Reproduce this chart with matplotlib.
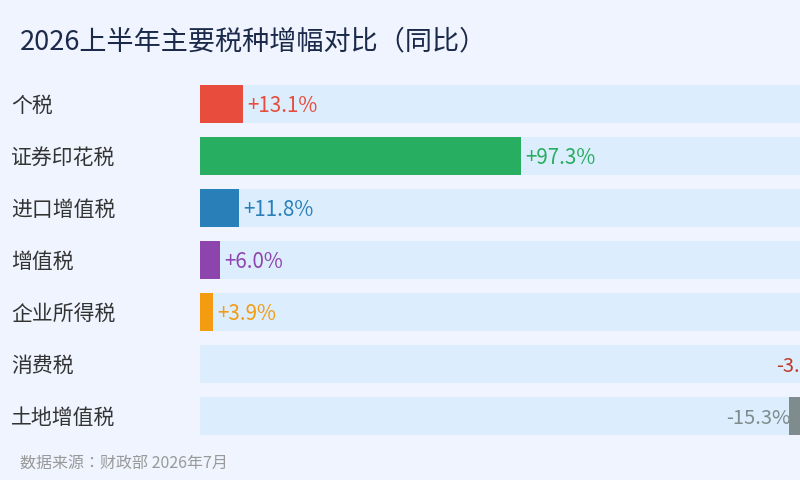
import matplotlib
matplotlib.use("Agg")
import matplotlib.pyplot as plt
import matplotlib.transforms as mtransforms
import numpy as np

plt.rcParams['font.family'] = ['Noto Sans CJK SC', 'DejaVu Sans']

title = "2026上半年主要税种增幅对比（同比）"
source = "数据来源：财政部 2026年7月"
categories = ["个税", "证券印花税", "进口增值税", "增值税", "企业所得税", "消费税", "土地增值税"]
values = [13.1, 97.3, 11.8, 6.0, 3.9, -3.4, -15.3]
colors = ["#E74C3C", "#27AE60", "#2980B9", "#8E44AD", "#F39C12", "#C0392B", "#7F8C8D"]

BG = "#EFF4FE"
TRACK = "#DCEDFD"

W, H = 800, 480
fig = plt.figure(figsize=(8, 4.8), dpi=100, facecolor=BG)

px_per_unit = 3.3
ax_left, ax_right = 200, 800
row_h = 52
top_row_center = 104
n = len(categories)
ax_top = top_row_center - row_h / 2
ax_bottom = ax_top + n * row_h
ax = fig.add_axes([ax_left / W, 1 - ax_bottom / H, (ax_right - ax_left) / W, n * row_h / H])
ax.set_facecolor(BG)
xmax = (ax_right - ax_left) / px_per_unit
ax.set_xlim(0, xmax)
ax.set_ylim(n - 0.5, -0.5)
ax.axis('off')

ypos = np.arange(n)
bar_h = 38 / row_h
right_end = 193.8  # track end (beyond visible area)

ax.barh(ypos, [right_end] * n, height=bar_h, color=TRACK, left=0)

down = 1.5  # points, nudge text down
tdata = mtransforms.offset_copy(ax.transData, fig=fig, x=0, y=-down, units='points')
gap = 4.5 / px_per_unit
for y, v, c in zip(ypos, values, colors):
    if v >= 0:
        ax.barh(y, v, height=bar_h, left=0, color=c)
        ax.text(v + gap, y, f"+{v:.1f}%", color=c, fontsize=14.8,
                va='center', ha='left', transform=tdata)
    else:
        ax.barh(y, -v, height=bar_h, left=right_end + v, color=c)
        ax.text(right_end + v + 0.4, y, f"{v:.1f}%", color=c, fontsize=14.5,
                va='center', ha='right', clip_on=False, transform=tdata)

trans = mtransforms.blended_transform_factory(fig.transFigure, ax.transData)
trans = mtransforms.offset_copy(trans, fig=fig, x=0, y=-down, units='points')
for y, cat in zip(ypos, categories):
    ax.text(11 / W, y, cat, transform=trans, fontsize=15, color="#333333",
            va='center', ha='left')

fig.text(20 / W, 1 - 41.5 / H, title, fontsize=19.5, color="#1B2A4A",
         va='center', ha='left')
fig.text(20 / W, 1 - 463 / H, source, fontsize=11.5, color="#999999",
         va='center', ha='left', family=['Noto Sans CJK JP', 'DejaVu Sans'])

fig.savefig("out.png", dpi=100, facecolor=BG)
